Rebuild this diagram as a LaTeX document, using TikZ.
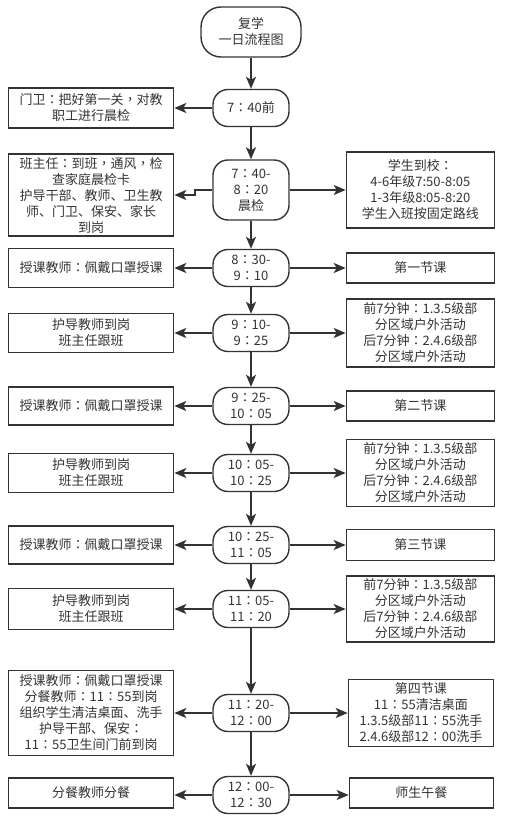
\documentclass[tikz,border=0pt]{standalone}
\usepackage{fontspec}
\setmainfont{Noto Sans CJK SC}
\newfontfamily\puncfont{Noto Sans CJK TC}
\newcommand{\cln}{{\puncfont ：}}
\newcommand{\cma}{{\puncfont ，}}
\definecolor{LineDark}{HTML}{333333}
\usetikzlibrary{arrows.meta, positioning}

\begin{document}
\begin{tikzpicture}[
  x=1pt, y=1pt,
  font=\fontsize{13}{16}\selectfont,
  text=LineDark,
  titlebox/.style={
    rectangle, rounded corners=20pt,
    minimum width=100pt, minimum height=50pt,
    align=center, inner sep=2pt,
    draw=LineDark, line width=1.4pt
  },
  slot/.style={
    rectangle, rounded corners=15pt,
    minimum width=76pt, minimum height=37pt,
    align=center, inner sep=2pt,
    draw=LineDark, line width=1.4pt
  },
  duty/.style={
    rectangle,
    minimum width=165pt, minimum height=39pt,
    align=center, inner sep=2pt,
    draw=LineDark, line width=1.4pt
  },
  task/.style={
    rectangle,
    minimum width=148pt, minimum height=30pt,
    align=center, inner sep=2pt,
    draw=LineDark, line width=1.4pt
  },
  arr/.style={-{Stealth[length=12pt, width=10pt, inset=3pt]}, line width=1.8pt, draw=LineDark},
]

\useasboundingbox (0,0) rectangle (509,-824);

\node[titlebox] (head) at (251,-32) {复学\\一日流程图};

\node[slot] (s1) at (251,-108) {7\cln 40前};
\node[slot, minimum height=60pt] (s2) at (251,-190) {7\cln 40-\\8\cln 20\\晨检};
\node[slot] (s3) at (251,-268) {8\cln 30-\\9\cln 10};
\node[slot] (s4) at (251,-333) {9\cln 10-\\9\cln 25};
\node[slot] (s5) at (251,-406) {9\cln 25-\\10\cln 05};
\node[slot] (s6) at (251,-473) {10\cln 05-\\10\cln 25};
\node[slot] (s7) at (251,-545) {10\cln 25-\\11\cln 05};
\node[slot] (s8) at (251,-609) {11\cln 05-\\11\cln 20};
\node[slot] (s9) at (251,-713) {11\cln 20-\\12\cln 00};
\node[slot] (s10) at (251,-795) {12\cln 00-\\12\cln 30};

\node[duty, minimum height=40pt, left=38pt of s1] (l1) {门卫\cln 把好第一关\cma 对教\\职工进行晨检};
\node[duty, minimum height=82pt, left=38pt of s2, yshift=-5pt] (l2) {班主任\cln 到班\cma 通风\cma 检\\查家庭晨检卡\\护导干部、教师、卫生教\\师、门卫、保安、家长\\到岗};
\node[duty, left=38pt of s3] (l3) {授课教师\cln 佩戴口罩授课};
\node[duty, left=38pt of s4] (l4) {护导教师到岗\\班主任跟班};
\node[duty, minimum height=38pt, left=38pt of s5] (l5) {授课教师\cln 佩戴口罩授课};
\node[duty, left=38pt of s6] (l6) {护导教师到岗\\班主任跟班};
\node[duty, minimum height=38pt, left=38pt of s7] (l7) {授课教师\cln 佩戴口罩授课};
\node[duty, minimum height=41pt, left=38pt of s8] (l8) {护导教师到岗\\班主任跟班};
\node[duty, minimum height=85pt, left=38pt of s9] (l9) {授课教师\cln 佩戴口罩授课\\分餐教师\cln 11\cln 55到岗\\组织学生清洁桌面、洗手\\护导干部、保安\cln\\11\cln 55卫生间门前到岗};
\node[duty, minimum height=30pt, left=38pt of s10, yshift=2pt] (l10) {分餐教师分餐};

\node[task, minimum height=76pt, right=56pt of s2] (r2) {学生到校\cln\\4-6年级7:50-8:05\\1-3年级8:05-8:20\\学生入班按固定路线};
\node[task, right=56pt of s3] (r3) {第一节课};
\node[task, minimum height=68pt, right=56pt of s4] (r4) {前7分钟\cln 1.3.5级部\\分区域户外活动\\后7分钟\cln 2.4.6级部\\分区域户外活动};
\node[task, right=56pt of s5] (r5) {第二节课};
\node[task, minimum height=67pt, right=56pt of s6] (r6) {前7分钟\cln 1.3.5级部\\分区域户外活动\\后7分钟\cln 2.4.6级部\\分区域户外活动};
\node[task, minimum height=31pt, right=56pt of s7] (r7) {第三节课};
\node[task, minimum height=66pt, right=56pt of s8] (r8) {前7分钟\cln 1.3.5级部\\分区域户外活动\\后7分钟\cln 2.4.6级部\\分区域户外活动};
\node[task, minimum width=145pt, minimum height=67pt, right=58pt of s9] (r9) {第四节课\\11\cln 55清洁桌面\\1.3.5级部11\cln 55洗手\\2.4.6级部12\cln 00洗手};
\node[task, minimum width=144pt, right=59pt of s10, yshift=2pt] (r10) {师生午餐};

\draw[arr] (head) -- (s1);
\draw[arr] (s1) -- (s2);
\draw[arr] (s2) -- (s3);
\draw[arr] (s3) -- (s4);
\draw[arr] (s4) -- (s5);
\draw[arr] (s5) -- (s6);
\draw[arr] (s6) -- (s7);
\draw[arr] (s7) -- (s8);
\draw[arr] (s8) -- (s9);
\draw[arr] (s9) -- (s10);

\draw[arr] (s1) -- (l1);
\draw[arr] (s2.west) -- ++(-17,0) |- (l2.east);
\draw[arr] (s3) -- (l3);
\draw[arr] (s4) -- (l4);
\draw[arr] (s5) -- (l5);
\draw[arr] (s6) -- (l6);
\draw[arr] (s7) -- (l7);
\draw[arr] (s8) -- (l8);
\draw[arr] (s9) -- (l9);
\draw[arr] (s10.west) -- (s10.west -| l10.east);

\draw[arr] (s2) -- (r2);
\draw[arr] (s3) -- (r3);
\draw[arr] (s4) -- (r4);
\draw[arr] (s5) -- (r5);
\draw[arr] (s6) -- (r6);
\draw[arr] (s7) -- (r7);
\draw[arr] (s8) -- (r8);
\draw[arr] (s9) -- (r9);
\draw[arr] (s10.east) -- (s10.east -| r10.west);

\end{tikzpicture}
\end{document}
